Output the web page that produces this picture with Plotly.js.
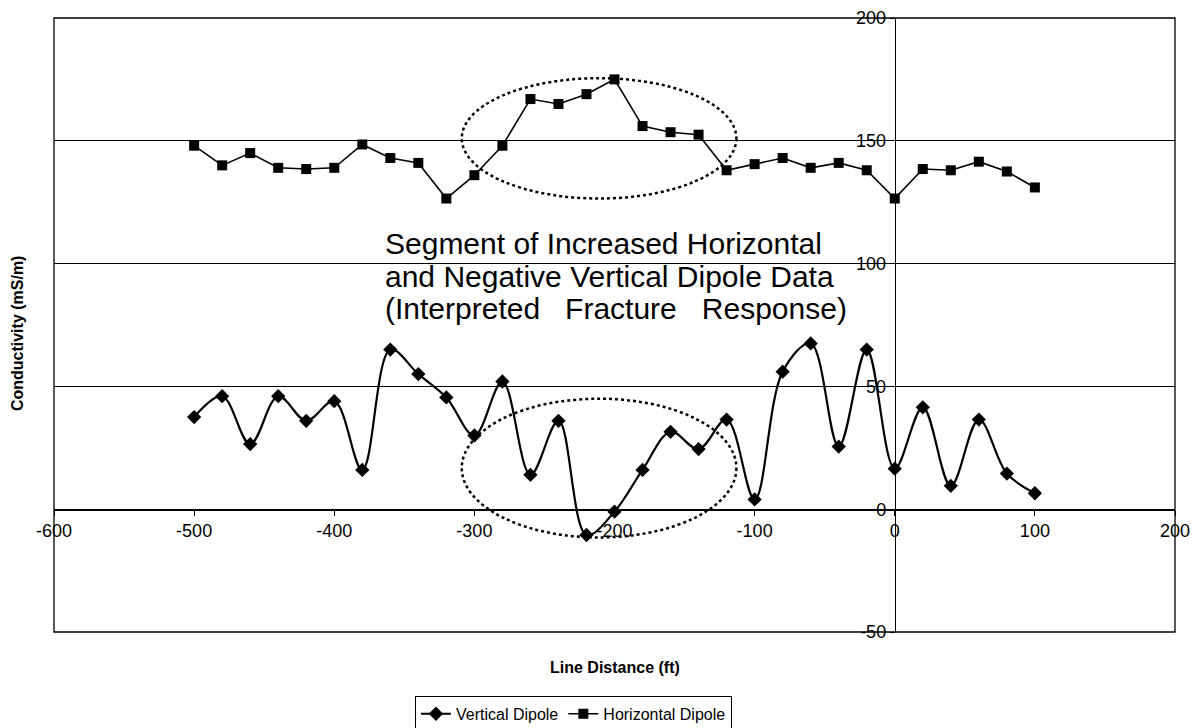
<!DOCTYPE html>
<html>
<head>
<meta charset="utf-8">
<script src="https://cdn.plot.ly/plotly-3.0.1.min.js"></script>
<style>
  html, body { margin: 0; padding: 0; background: #ffffff; }
  #chart { width: 1201px; height: 728px; }
</style>
</head>
<body>
<div id="chart"></div>
<script>
// ---- data ----
const lineDistance = [-500, -480, -460, -440, -420, -400, -380, -360, -340, -320,
  -300, -280, -260, -240, -220, -200, -180, -160, -140, -120,
  -100, -80, -60, -40, -20, 0, 20, 40, 60, 80, 100];

const verticalDipole = [37.5, 46, 26.5, 46, 36, 44, 16, 65, 55, 45.5,
  30, 52, 14, 36, -10.5, -1, 16, 31.5, 24.5, 36.5,
  4, 56, 67.5, 25.5, 65, 16.5, 41.5, 9.5, 36.5, 14.5, 6.5];

const horizontalDipole = [148, 140, 145, 139, 138.5, 139, 148.5, 143, 141, 126.5,
  136, 148, 167, 165, 169, 175, 156, 153.5, 152.5, 138,
  140.5, 143, 139, 141, 138, 126.5, 138.5, 138, 141.5, 137.5, 131];

const seriesNames = ["Vertical Dipole", "Horizontal Dipole"];
const xTicks = [-600, -500, -400, -300, -200, -100, 0, 100, 200];
const xTickLabels = ["-600", "-500", "-400", "-300", "-200", "-100", "0", "100", "200"];
const yTicks = [-50, 0, 50, 100, 150, 200];
const yTickLabels = ["-50", "0", "50", "100", "150", "200"];
const xTitle = "Line Distance (ft)";
const yTitle = "Conductivity (mS/m)";
const noteLines = ["Segment of Increased Horizontal",
  "and Negative Vertical Dipole Data",
  "(Interpreted&nbsp;&nbsp; Fracture&nbsp;&nbsp; Response)"];

const FONT = "Liberation Sans, Arial, Helvetica, sans-serif";

const traces = [
  {
    x: lineDistance, y: verticalDipole, name: seriesNames[0],
    type: "scatter", mode: "lines+markers",
    line: { color: "#000", width: 2.2, shape: "spline", smoothing: 1 },
    marker: { symbol: "diamond", size: 11, color: "#000" }
  },
  {
    x: lineDistance, y: horizontalDipole, name: seriesNames[1],
    type: "scatter", mode: "lines+markers",
    line: { color: "#000", width: 1.6 },
    marker: { symbol: "square", size: 10, color: "#000" }
  }
];

const noteY = [108.2, 94.9, 81.6];
const annotations = noteLines.map((t, i) => ({
  text: t, x: -365, y: noteY[i], xref: "x", yref: "y",
  xanchor: "left", yanchor: "middle", showarrow: false,
  font: { family: FONT, size: 30, color: "#000" }
}));
annotations.push({
  text: "<b>" + xTitle + "</b>", xref: "paper", yref: "paper",
  x: 0.5, y: -0.0586, xanchor: "center", yanchor: "middle", showarrow: false,
  font: { family: FONT, size: 16, color: "#000" }
});
annotations.push({
  text: "<b>" + yTitle + "</b>", xref: "paper", yref: "paper",
  x: -0.032, y: 0.487, xanchor: "center", yanchor: "middle", showarrow: false,
  textangle: -90,
  font: { family: FONT, size: 16, color: "#000" }
});

const layout = {
  width: 1201, height: 728,
  margin: { l: 54, r: 26, t: 18, b: 96, autoexpand: false },
  paper_bgcolor: "#fff", plot_bgcolor: "#fff",
  font: { family: FONT, color: "#000" },
  showlegend: true,
  legend: {
    orientation: "h", x: 0.322, y: -0.104, xanchor: "left", yanchor: "top",
    bordercolor: "#000", borderwidth: 1, bgcolor: "#fff",
    font: { family: FONT, size: 16, color: "#000" },
    itemwidth: 30, tracegroupgap: 0
  },
  xaxis: {
    range: [-600, 200], tickmode: "array", tickvals: xTicks, ticktext: xTickLabels,
    anchor: "free", position: 0.2,
    showline: true, linecolor: "#000", linewidth: 1.5,
    ticks: "outside", ticklen: 5, tickcolor: "#000",
    showgrid: false, zeroline: false,
    tickfont: { family: FONT, size: 18, color: "#000" }
  },
  yaxis: {
    range: [-50, 200], tickmode: "array", tickvals: yTicks, ticktext: yTickLabels,
    anchor: "free", position: 0.75,
    showline: true, linecolor: "#000", linewidth: 1.5,
    ticks: "outside", ticklen: 5, tickcolor: "#000",
    showgrid: true, gridcolor: "#000", gridwidth: 1.3, zeroline: false,
    tickfont: { family: FONT, size: 18, color: "#000" }
  },
  shapes: [
    { type: "rect", xref: "paper", yref: "paper", x0: 0, x1: 1, y0: 0, y1: 1,
      line: { color: "#000", width: 1.3 } },
    { type: "circle", xref: "x", yref: "y", x0: -309, x1: -113, y0: 126.5, y1: 175.5,
      line: { color: "#000", width: 2.5, dash: "dot" } },
    { type: "circle", xref: "x", yref: "y", x0: -309, x1: -113, y0: -11.5, y1: 45,
      line: { color: "#000", width: 2.5, dash: "dot" } }
  ],
  annotations: annotations
};

Plotly.newPlot("chart", traces, layout, { displayModeBar: false, staticPlot: true });
</script>
</body>
</html>
